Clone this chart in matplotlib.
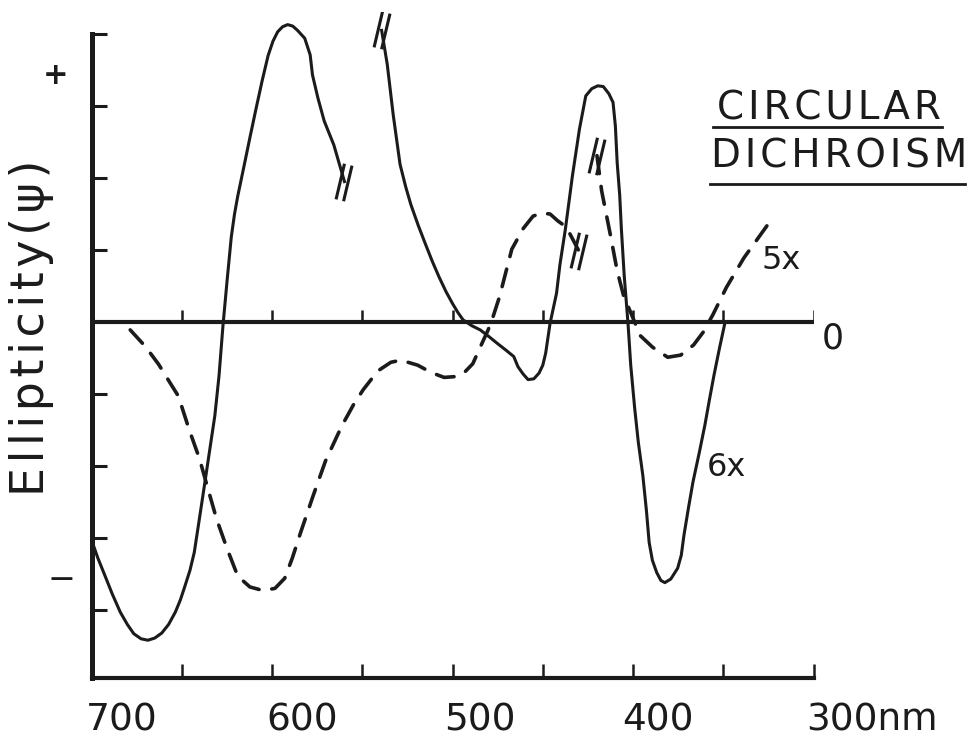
import numpy as np
import matplotlib
matplotlib.use("Agg")
import matplotlib.pyplot as plt
from matplotlib.path import Path
from matplotlib.lines import Line2D

# solid curve (6x), broken in two pieces
solid1_nm = [700, 696.5, 692.8, 688.5, 684.1, 680.2, 676.6, 672.6, 668.8, 665.0,
             661.1, 657.3, 653.6, 650.8, 648.3, 645.5, 643.1, 639.7, 636.7, 634.2,
             631.7, 629.4, 627.2, 624.9, 622.6, 620.8, 619.0, 615.5, 612.2, 608.9,
             605.5, 602.2, 599.5, 596.9, 594.2, 591.4, 588.6, 585.9, 581.9, 578.9,
             577.6, 574.6, 571.1, 565.8, 559.9]
solid1_val = [-3.03, -3.28, -3.51, -3.78, -4.03, -4.20, -4.33, -4.40, -4.42, -4.39,
              -4.32, -4.20, -4.03, -3.86, -3.67, -3.45, -3.20, -2.64, -2.14, -1.72,
              -1.30, -0.75, -0.05, 0.58, 1.18, 1.50, 1.75, 2.17, 2.57, 2.96,
              3.35, 3.70, 3.90, 4.03, 4.10, 4.13, 4.11, 4.05, 3.94, 3.71,
              3.43, 3.11, 2.79, 2.46, 1.95]

solid2_nm = [539.3, 536.2, 532.9, 529.1, 526.0, 523.1, 519.0, 515.0, 511.2, 507.4,
             503.6, 499.9, 497.0, 494.2, 489.5, 484.7, 480.0, 475.1, 470.5, 466.1,
             463.8, 461.0, 458.2, 455.0, 452.1, 450.0, 448.4, 446.0, 442.4, 440.5,
             437.5, 433.6, 429.7, 426.2, 422.9, 419.6, 416.5, 413.4, 411.1, 409.8,
             408.8, 407.4, 406.5, 404.9, 402.8, 401.3, 399.1, 397.1, 394.6, 392.6,
             391.1, 389.3, 386.9, 384.6, 382.4, 379.1, 375.3, 373.3, 371.8, 369.3,
             366.8, 363.2, 360.2, 357.7, 355.1, 352.1, 349.0]
solid2_val = [4.05, 3.58, 2.88, 2.19, 1.88, 1.63, 1.34, 1.08, 0.84, 0.62,
              0.42, 0.25, 0.13, 0.03, -0.05, -0.11, -0.20, -0.30, -0.39, -0.48,
              -0.62, -0.72, -0.80, -0.79, -0.71, -0.60, -0.43, -0.02, 0.40, 0.80,
              1.29, 2.03, 2.68, 3.14, 3.24, 3.28, 3.27, 3.17, 3.05, 2.72,
              2.21, 1.76, 1.30, 0.64, -0.02, -0.60, -1.20, -1.67, -2.13, -2.62,
              -3.06, -3.31, -3.48, -3.59, -3.62, -3.57, -3.42, -3.24, -2.96, -2.58,
              -2.22, -1.80, -1.43, -1.08, -0.73, -0.36, 0.0]

# dashed curve (5x), broken in two pieces
dash1_nm = [678.6, 670.2, 662.8, 655.9, 651.9, 646.0, 640.2, 635.5, 630.7, 624.9, 619.0,
            612.3, 605.0, 598.4, 593.0, 588.8, 584.0, 577.2, 570.4, 561.3, 554.9, 549.5,
            541.4, 534.2, 528.7, 519.3, 512.0, 504.7, 499.2, 494.2, 488.8, 484.5, 480.3,
            477.6, 474.0, 467.2, 460.8, 455.4, 451.0, 446.0, 441.5, 437.0, 430.1]
dash1_val = [-0.11, -0.34, -0.59, -0.87, -1.03, -1.49, -1.90, -2.32, -2.74, -3.15, -3.53,
             -3.68, -3.73, -3.70, -3.56, -3.28, -2.91, -2.41, -1.93, -1.44, -1.15, -0.94,
             -0.68, -0.56, -0.53, -0.60, -0.70, -0.77, -0.76, -0.72, -0.58, -0.34, -0.11,
             0.07, 0.35, 1.01, 1.30, 1.47, 1.51, 1.50, 1.40, 1.32, 0.99]

dash2_nm = [420.0, 417.4, 412.5, 408.8, 405.3, 401.8, 396.0, 389.2, 380.8, 373.6, 366.5,
            361.1, 355.8, 348.3, 338.6, 324.0]
dash2_val = [2.31, 1.82, 1.20, 0.71, 0.37, 0.16, -0.19, -0.35, -0.49, -0.46, -0.32,
             -0.14, 0.10, 0.48, 0.89, 1.40]

xlabel_nm = [700, 600, 500, 400, 300]
xlabels = ["700", "600", "500", "400", "300nm"]
xlabel_shift = [22, 22, 20, 18, -5]   # hand lettering sits right of the ticks

ink = "#1b1b1b"
hs = "\u200a"  # hair space, the stencil lettering is widely spaced


def spaced(s):
    return hs.join(s)


fig = plt.figure(figsize=(9.69, 7.41), dpi=100)
ax = fig.add_axes([0.0945, 0.0845, 0.7451, 0.8988])
ax.set_xlim(700, 300)
ax.set_ylim(-4.95, 4.3)

for s in ["top", "right"]:
    ax.spines[s].set_visible(False)
ax.spines["left"].set_bounds(-4.95, 4.0)
ax.spines["left"].set_linewidth(3.6)
ax.spines["bottom"].set_linewidth(3.0)
ax.spines["left"].set_color(ink)
ax.spines["bottom"].set_color(ink)

ax.set_yticks([-4, -3, -2, -1, 1, 2, 3, 4])
ax.set_xticks(np.arange(650, 299, -50))
ax.tick_params(axis="y", direction="in", length=11, width=2.2, color=ink, labelleft=False)
ax.tick_params(axis="x", direction="in", length=10, width=1.8, color=ink, labelbottom=False)

# zero line with its own small ticks
ax.plot([700, 300], [0, 0], color=ink, lw=3.0, solid_capstyle="butt")
ax.vlines(np.arange(650, 299, -50), 0, 0.17, color=ink, lw=1.8)

# break mark "//"
brk = Path([(-0.45, -0.9), (0.0, 1.0), (-0.05, -1.0), (0.4, 0.9)],
           [Path.MOVETO, Path.LINETO, Path.MOVETO, Path.LINETO])

ax.plot(solid1_nm, solid1_val, color=ink, lw=2.2, solid_joinstyle="round")
ax.plot(solid2_nm, solid2_val, color=ink, lw=2.2, solid_joinstyle="round")
ax.plot(dash1_nm, dash1_val, color=ink, lw=2.6, linestyle=(0, (5, 3.6)),
        dash_capstyle="round")
ax.plot(dash2_nm, dash2_val, color=ink, lw=2.6, linestyle=(0, (5, 3.6)),
        dash_capstyle="round")

ends = [(solid1_nm[-1], solid1_val[-1]), (solid2_nm[0], solid2_val[0]),
        (dash1_nm[-1], dash1_val[-1]), (dash2_nm[0], dash2_val[0])]
for xe, ye in ends:
    ax.plot([xe], [ye], marker=brk, markersize=27, markeredgewidth=2.2,
            markeredgecolor=ink, markerfacecolor="none", linestyle="none")

# axis lettering
for nm, lab, sh in zip(xlabel_nm, xlabels, xlabel_shift):
    ax.annotate(lab, xy=(nm, -4.95), xytext=(sh, -30), textcoords="offset points",
                ha="left" if lab.endswith("nm") else "center", va="center",
                fontsize=27, color=ink, annotation_clip=False)

ax.annotate("0", xy=(300, 0), xytext=(14, -12), textcoords="offset points",
            ha="center", va="center", fontsize=25, color=ink, annotation_clip=False)
ax.annotate("+", xy=(700, 3.43), xytext=(-26, 0), textcoords="offset points",
            ha="center", va="center", fontsize=22, fontweight="bold", color=ink,
            annotation_clip=False)
ax.annotate("\u2212", xy=(700, -3.58), xytext=(-22, 0), textcoords="offset points",
            ha="center", va="center", fontsize=24, color=ink, annotation_clip=False)

ax.text(318, 0.85, "5x", ha="center", va="center", fontsize=23, color=ink)
ax.text(348, -2.02, "6x", ha="center", va="center", fontsize=23, color=ink)

fig.text(32 / 969, 1 - 328 / 741, spaced("Ellipticity(\u03c8)"), rotation=90,
         ha="center", va="center", fontsize=33, color=ink)

fig.text(717 / 969, 1 - 108 / 741, spaced("CIRCULAR"), ha="left", va="center",
         fontsize=28, color=ink)
fig.text(711 / 969, 1 - 157 / 741, spaced("DICHROISM"), ha="left", va="center",
         fontsize=28, color=ink)
fig.add_artist(Line2D([713 / 969, 942 / 969], [1 - 127 / 741] * 2, lw=2.0, color=ink))
fig.add_artist(Line2D([710 / 969, 965 / 969], [1 - 184 / 741] * 2, lw=2.0, color=ink))

fig.savefig("out.png", dpi=100, facecolor="white")
